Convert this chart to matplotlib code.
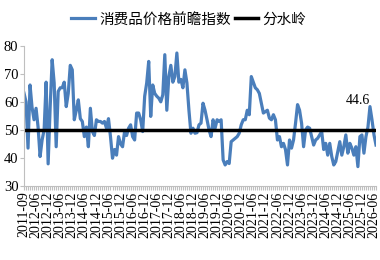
import matplotlib
matplotlib.use("Agg")
import matplotlib.pyplot as plt
import numpy as np

# 消费品价格前瞻指数 (monthly categories, 2011-09 .. 2026-07)
values = [63.1, 60.0, 43.5, 66.0, 58.0, 53.6, 57.7, 51.0, 40.5, 46.4,
          50.0, 67.0, 37.9, 58.0, 75.0, 66.7, 44.0, 63.7, 65.0, 65.0,
          67.0, 58.3, 63.0, 73.0, 71.4, 53.6, 57.0, 60.7, 54.0, 53.0,
          47.6, 51.0, 44.0, 57.7, 49.4, 48.0, 53.6, 53.0, 53.0, 52.4,
          53.0, 50.6, 54.0, 47.6, 39.9, 43.0, 41.0, 47.6, 45.0, 44.0,
          49.4, 48.0, 50.6, 51.8, 47.6, 46.4, 56.0, 56.0, 53.6, 49.4,
          62.0, 66.7, 74.4, 54.8, 66.0, 63.0, 62.0, 61.3, 60.0, 62.5,
          76.8, 57.0, 69.0, 73.0, 67.0, 69.0, 77.4, 67.0, 68.0, 65.0,
          71.4, 66.7, 57.0, 48.8, 50.6, 48.8, 49.0, 51.8, 52.4, 59.5,
          57.0, 53.6, 50.0, 47.6, 53.6, 50.6, 53.6, 53.0, 53.6, 39.3,
          37.5, 38.7, 38.0, 45.8, 46.4, 47.0, 47.6, 48.8, 51.8, 53.6,
          53.6, 57.0, 55.4, 69.0, 67.0, 65.0, 64.3, 63.0, 59.5, 56.0,
          56.5, 57.0, 54.2, 53.6, 55.4, 53.6, 46.4, 47.6, 44.0, 45.2,
          43.0, 37.5, 46.4, 43.5, 46.4, 52.4, 59.0, 57.0, 52.4, 44.0,
          50.0, 51.0, 50.6, 47.6, 44.6, 46.4, 47.0, 48.2, 49.4, 43.0,
          45.2, 41.0, 45.2, 40.5, 37.5, 38.7, 42.3, 45.8, 41.0, 44.0,
          48.2, 41.7, 45.2, 43.5, 41.0, 44.0, 36.9, 47.6, 48.2, 41.7,
          47.6, 51.0, 58.3, 53.6, 48.2, 44.6]
watershed = 50

tick_labels = ["2011-09", "2012-06", "2012-12", "2013-06", "2013-12", "2014-06",
               "2014-12", "2015-06", "2015-12", "2016-06", "2016-12", "2017-06",
               "2017-12", "2018-06", "2018-12", "2019-06", "2019-12", "2020-06",
               "2020-12", "2021-06", "2021-12", "2022-06", "2022-12", "2023-06",
               "2023-12", "2024-06", "2024-12", "2025-06", "2025-12", "2026-06"]

x = np.arange(len(values))
serif = ["Liberation Serif", "DejaVu Serif"]
cjk = ["Noto Sans CJK SC", "DejaVu Sans"]

fig = plt.figure(figsize=(3.8, 2.6), dpi=100)
ax = fig.add_axes([24 / 380, 1 - 186 / 260, 352 / 380, 140.3 / 260])

line1, = ax.plot(x, values, color="#4a7ebb", lw=2.3, solid_joinstyle="round",
                 label="消费品价格前瞻指数")
line2 = ax.axhline(watershed, color="black", lw=2.5, label="分水岭")

ax.annotate(f"{values[-1]:.1f}", xy=(x[-1], values[-1]), xytext=(-13, 32),
            textcoords="offset points", ha="center", va="center",
            family=serif, fontsize=10)

ax.set_xlim(0, len(values) - 1)
ax.set_ylim(30, 80)
ax.set_yticks(range(30, 81, 10))
ax.set_xticks(np.arange(len(tick_labels)) * 6)
ax.set_xticks(x, minor=True)
ax.set_xticklabels(tick_labels, rotation=90, family=serif, fontsize=10)
for t in ax.get_yticklabels():
    t.set_family(serif)
    t.set_fontsize(10.5)

for s in ["top", "right"]:
    ax.spines[s].set_visible(False)
for s in ["left", "bottom"]:
    ax.spines[s].set_color("#bfbfbf")
ax.tick_params(axis="both", which="both", direction="out", color="#bfbfbf",
               length=3, width=0.8, pad=1)

fig.legend(handles=[line1, line2], loc="center", bbox_to_anchor=(0.497, 0.925),
           ncol=2, frameon=False, prop={"family": cjk, "size": 10.5},
           handlelength=1.6, handletextpad=0.3, columnspacing=0.3)

fig.savefig("out.png", dpi=100)
